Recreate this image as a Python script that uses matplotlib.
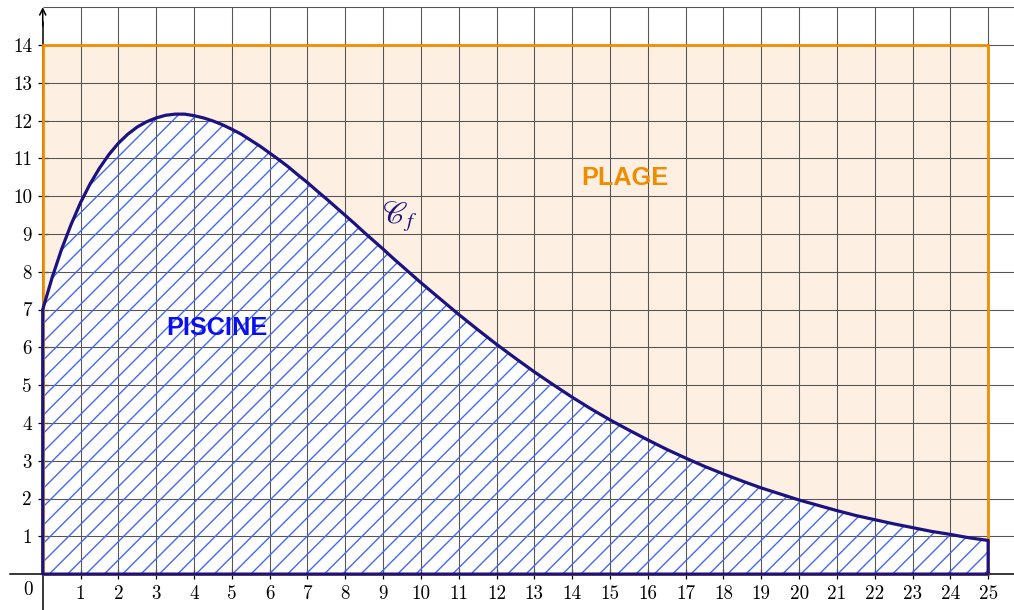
import numpy as np
import matplotlib
matplotlib.use('Agg')
from matplotlib import pyplot as plt
from matplotlib.patches import Rectangle

# curve values: quarter steps up to 10, half steps after
xs = [i / 4 for i in range(41)] + [10.5 + i / 2 for i in range(30)]
ys = [7.00, 7.85, 8.60, 9.25, 9.83, 10.32, 10.74, 11.10, 11.40, 11.64,
      11.83, 11.97, 12.07, 12.14, 12.17, 12.17, 12.13, 12.07, 11.99, 11.89,
      11.77, 11.64, 11.48, 11.32, 11.14, 10.96, 10.77, 10.56, 10.36, 10.14,
      9.93, 9.71, 9.49, 9.27, 9.04, 8.82, 8.60, 8.37, 8.15, 7.93,
      7.71,
      7.29, 6.87, 6.47, 6.08, 5.71, 5.35, 5.01, 4.68, 4.37,
      4.08, 3.81, 3.55, 3.30, 3.07, 2.85, 2.65, 2.46, 2.28, 2.12,
      1.96, 1.82, 1.68, 1.55, 1.44, 1.33, 1.23, 1.13, 1.05, 0.96,
      0.89]
beach_w, beach_h = 25, 14
x_ticks = list(range(1, 26))
y_ticks = list(range(1, 15))

NAVY = '#1c1380'
ORANGE = '#f08c00'
HATCH = '#4466f5'
GRID = '#555555'

plt.rcParams['hatch.linewidth'] = 0.9
dpi = 110
fig = plt.figure(figsize=(1015 / dpi, 610 / dpi), dpi=dpi)
ax = fig.add_axes([0, 0, 1, 1])
ax.set_xlim(-1.13, 25.71)
ax.set_ylim(-0.95, 15.19)

# beach
ax.add_patch(Rectangle((0, 0), beach_w, beach_h, facecolor='#fdf0e3',
                       edgecolor='none', zorder=0))
# pool background
ax.fill_between(xs, ys, 0, facecolor='white', edgecolor='none', zorder=1)

# grid
ax.hlines(range(1, 16), 0, 25.71, color=GRID, lw=0.7, zorder=2)
ax.vlines(range(1, 26), 0, 15, color=GRID, lw=0.7, zorder=2)

# hatch
ax.fill_between(xs, ys, 0, facecolor='none', edgecolor=HATCH, hatch='//',
                linewidth=0, zorder=3)

ax.add_patch(Rectangle((0, 0), beach_w, beach_h, facecolor='none',
                       edgecolor=ORANGE, lw=1.8, zorder=4))
ax.fill(xs + [beach_w, 0], ys + [0, 0], facecolor='none', edgecolor=NAVY,
        lw=2.1, joinstyle='round', zorder=5)

# axes
for s in ['top', 'right']:
    ax.spines[s].set_visible(False)
ax.spines['left'].set_position(('data', 0))
ax.spines['bottom'].set_position(('data', 0))
ax.spines['bottom'].set_bounds(-0.87, 25.71)
ax.spines['left'].set_bounds(-0.95, 14.6)
for s in ['left', 'bottom']:
    ax.spines[s].set_linewidth(1.0)
    ax.spines[s].set_zorder(3.5)
ax.annotate('', xy=(0, 15.0), xytext=(0, 14.5),
            arrowprops=dict(arrowstyle='->', lw=1.0, color='black',
                            shrinkA=0, shrinkB=0), zorder=6)

ax.set_xticks(x_ticks)
ax.set_yticks(y_ticks)
ax.tick_params(direction='inout', length=6, width=0.8, labelsize=12.5, pad=4)
for lab in ax.get_xticklabels() + ax.get_yticklabels():
    lab.set_family('cmr10')
ax.text(-0.4, -0.42, '0', ha='center', va='center', fontsize=12.5,
        family='cmr10')

ax.text(4.6, 6.52, 'PISCINE', color='#0a0ff0', fontsize=16.5, weight='bold',
        family='Liberation Sans', ha='center', va='center', zorder=7)
ax.text(15.4, 10.49, 'PLAGE', color=ORANGE, fontsize=16.5, weight='bold',
        family='Liberation Sans', ha='center', va='center', zorder=7)
ax.text(9.45, 9.45, r'$\mathscr{C}_f$', color=NAVY, fontsize=20,
        math_fontfamily='stix', ha='center', va='center', zorder=7)

fig.savefig('out.png', dpi=dpi)
